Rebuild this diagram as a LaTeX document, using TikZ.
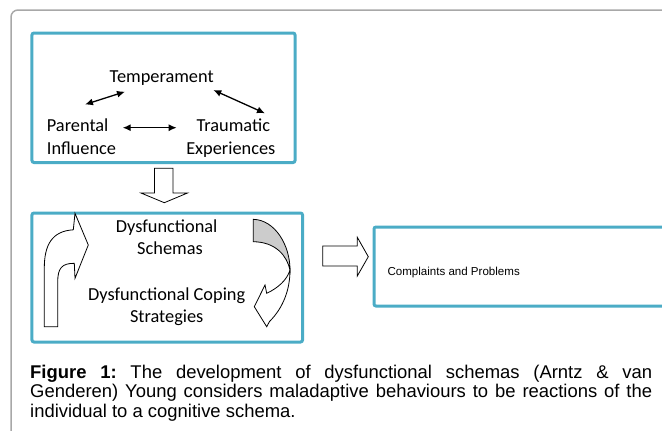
\documentclass[tikz,border=0pt]{standalone}
\usepackage{fontspec}
\setmainfont{Carlito}
\newfontfamily\arialf{Liberation Sans}
\usetikzlibrary{arrows.meta}
\definecolor{boxblue}{RGB}{75,172,198}
\definecolor{framegray}{RGB}{168,168,168}
\begin{document}
\begin{tikzpicture}[x=1bp,y=-1bp,
  bluebox/.style={draw=boxblue, line width=3bp, rounded corners=2bp, inner sep=0pt},
  lbl/.style={font=\fontsize{18.4}{22}\selectfont, inner sep=0pt},
  rel/.style={{Latex[length=8bp,width=7bp]}-{Latex[length=8bp,width=7bp]}, line width=1.3bp},
  blockarrow/.style={draw=black, fill=white, line width=0.8bp, line join=miter},
  twistpart/.style={draw=black, line width=0.8bp}]
\useasboundingbox (0,0) rectangle (662,430);
% outer frame
\draw[framegray, line width=1.5bp, rounded corners=7bp] (11,440) -- (11,10) -- (670,10);
% boxes
\node[bluebox, minimum width=263bp, minimum height=129.5bp] (box1) at (163.5,97.75) {};
\node[bluebox, minimum width=270.5bp, minimum height=129bp] (box2) at (167.25,277.5) {};
\node[bluebox, minimum width=310bp, minimum height=79bp] (box3) at (529,266.5) {};
% box 1 texts
\node[lbl, anchor=base] (temp) at (161.7,82.3) {Temperament};
\node[lbl, anchor=base west] (par1) at (46.7,131.7) {Parental};
\node[lbl, anchor=base west] (par2) at (46.7,154.3) {Influence};
\node[lbl, anchor=base] (tra1) at (233.3,131.7) {Traumatic};
\node[lbl, anchor=base] (tra2) at (230.8,154.3) {Experiences};
% relation arrows
\coordinate (a1) at (85,104.5);
\coordinate (a2) at (125,91.7);
\coordinate (b1) at (213.3,90);
\coordinate (b2) at (265,113.3);
\coordinate (c1) at (122.7,127.7);
\coordinate (c2) at (176.7,127.7);
\draw[rel] (a1) -- (a2);
\draw[rel] (b1) -- (b2);
\draw[rel] (c1) -- (c2);
% down block arrow
\draw[blockarrow] (154.5,168.3) -- (173,168.3) -- (173,193) -- (187.5,193) -- (164.3,202.7) -- (141,193) -- (154.5,193) -- cycle;
% box 2 texts
\node[lbl, anchor=base] (dys1) at (166.7,232.7) {Dysfunctional};
\node[lbl, anchor=base] (dys2) at (170,254) {Schemas};
\node[lbl, anchor=base] (cop1) at (166.7,300.7) {Dysfunctional Coping};
\node[lbl, anchor=base] (cop2) at (166.7,322.7) {Strategies};
% left curved arrow
\draw[blockarrow] (44.3,326.7) -- (44.3,268) .. controls (44.3,245) and (52,231) .. (73.3,229.8) -- (75,213.3) -- (88.3,245) -- (75,278.3) -- (74.3,263.3) .. controls (62,263.3) and (57.7,268) .. (57.7,282) -- (57.7,326.7) -- cycle;
% right curved arrow
\draw[twistpart, fill=black!20] (253.3,219.3) .. controls (275,220) and (290,245) .. (290,270) .. controls (287,256) and (276,242) .. (253.3,241.7) -- cycle;
\draw[blockarrow] (290,270) .. controls (290,290) and (283,308) .. (269.5,321.5) -- (266.7,326.7) -- (254.3,306.7) -- (265,285) -- (266.7,293.3) .. controls (278,288) and (287,280) .. (290,270) -- cycle;
% right block arrow
\draw[blockarrow] (322.7,246) -- (357.3,246) -- (357.3,237.3) -- (368.3,256.7) -- (357.3,276) -- (357.3,266) -- (322.7,266) -- cycle;
% box 3 text
\node[inner sep=0pt, anchor=base west, font=\arialf\fontsize{11.6}{14}\selectfont] (comp) at (387.3,275.5) {Complaints and Problems};
% caption
\node[inner sep=0pt, anchor=base west, text width=622bp, align=justify, font=\arialf\fontsize{18.5}{20}\selectfont\frenchspacing] (caption) at (30,378) {\textbf{Figure 1:} The development of dysfunctional schemas (Arntz \& van\linebreak Genderen) Young considers maladaptive behaviours to be reactions of the\linebreak individual to a cognitive schema.};
\end{tikzpicture}
\end{document}
